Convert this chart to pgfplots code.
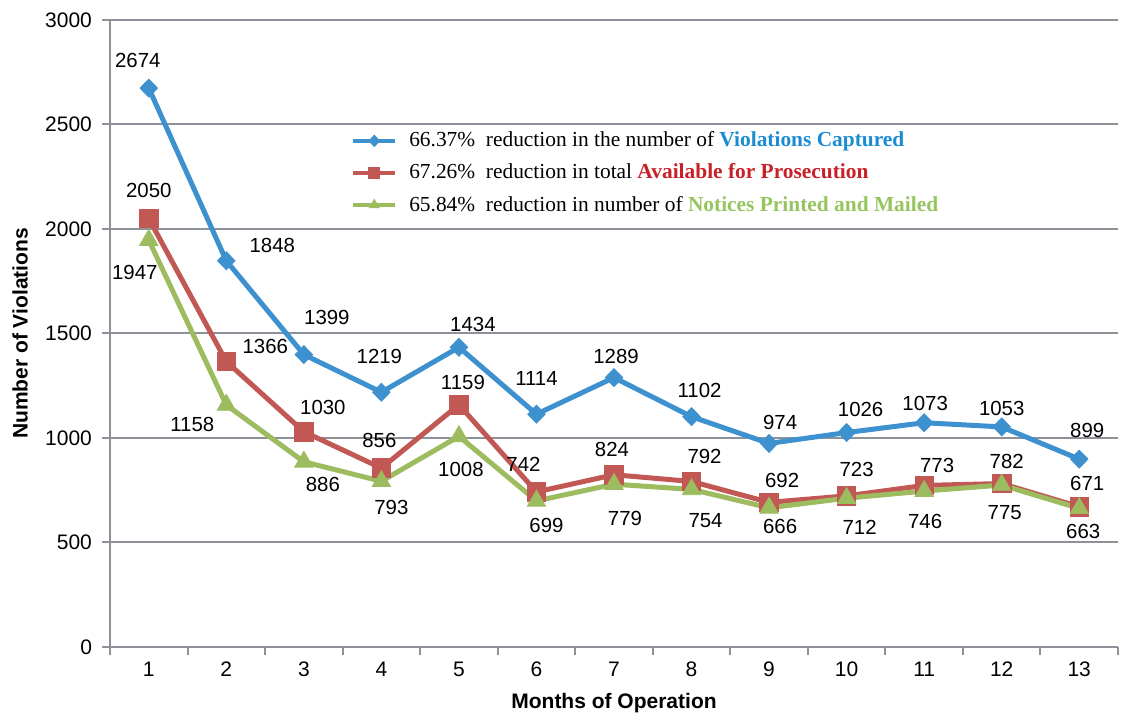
\documentclass[border=0pt]{standalone}
\usepackage{fontspec}
\setmainfont{Liberation Sans}
\newfontfamily\serifft{Liberation Serif}
\usepackage{pgfplots}
\pgfplotsset{compat=1.18}
\usepackage{pgfplotstable}
\definecolor{cblue}{RGB}{61,145,207}
\definecolor{cred}{RGB}{193,88,84}
\definecolor{cgreen}{RGB}{157,188,95}
\definecolor{tblue}{RGB}{28,140,210}
\definecolor{tred}{RGB}{200,32,40}
\definecolor{tgreen}{RGB}{150,196,95}
\definecolor{axgray}{RGB}{140,146,152}

\pgfplotstableread{
x y dx dy
1 2674 -5.5 14
2 1848 23 7.5
3 1399 11.5 18.5
4 1219 -1 18
5 1434 7 11.5
6 1114 0 18
7 1289 1 10.5
8 1102 4 13
9 974 5.5 10.5
10 1026 7 11.5
11 1073 0.5 9.5
12 1053 0 9
13 899 4 14.5
}\captured

\pgfplotstableread{
x y dx dy
1 2050 0 14
2 1366 19.5 7.5
3 1030 9.5 12
4 856 -1 14
5 1159 2 11
6 742 -6.5 14
7 824 -1 12.5
8 792 6.5 12.5
9 692 6.5 11
10 723 5 13
11 773 6.5 10
12 782 2.5 11
13 671 4 11.5
}\available

\pgfplotstableread{
x y dx dy
1 1947 -7 -16
2 1158 -17 -10
3 886 9.5 -11.5
4 793 5 -13
5 1008 1 -16.5
6 699 5 -12.5
7 779 5.5 -17
8 754 7 -15.5
9 666 5.5 -9.5
10 712 6.5 -14.5
11 746 0.5 -15
12 775 1.5 -14
13 663 2 -11.5
}\notices

\begin{document}
\begin{tikzpicture}
\begin{axis}[
  name=ax,
  scale only axis,
  width=504pt, height=313.5pt,
  xmin=0.5, xmax=13.5,
  ymin=0, ymax=3000,
  xtick={1,...,13},
  minor xtick={0.5,1.5,...,13.5},
  ytick={0,500,...,3000},
  axis x line*=bottom,
  axis y line*=left,
  axis line style={-, draw=axgray, line width=1pt},
  every outer x axis line/.append style={-},
  every outer y axis line/.append style={-},
  tick align=outside,
  major x tick style={draw=none},
  minor x tick style={draw=axgray, line width=1pt},
  minor tick length=4pt,
  major tick length=4pt,
  y tick style={draw=axgray, line width=1pt},
  ymajorgrids,
  major grid style={draw=axgray, line width=1pt},
  tick label style={font=\fontsize{10.5}{12}\selectfont},
  yticklabel style={xshift=-1.5pt},
  /pgf/number format/assume math mode=true,
  /pgf/number format/1000 sep={},
  xlabel={Months of Operation},
  ylabel={Number of Violations},
  every axis x label/.style={at={(axis description cs:0.5,0)}, anchor=center, yshift=-28pt, font=\bfseries\fontsize{10.5}{12}\selectfont},
  every axis y label/.style={at={(axis description cs:0,0.5)}, xshift=-45pt, rotate=90, anchor=center, font=\bfseries\fontsize{10.5}{12}\selectfont},
  clip=false,
  legend style={draw=none, fill=none, at={(0.233,0.835)}, anchor=north west,
    font=\serifft\fontsize{10.7}{13}\selectfont, row sep=3pt},
  legend cell align=left,
  legend image code/.code={%
    \draw[line width=2pt, mark repeat=2, mark phase=2] plot coordinates {(0pt,0pt) (10.5pt,0pt) (21pt,0pt)};},
  legend image post style={mark size=2.8pt},
  point meta=explicit symbolic,
  nodes near coords,
  visualization depends on={\thisrow{dx}\as\dx},
  visualization depends on={\thisrow{dy}\as\dy},
  every node near coord/.style={anchor=center, xshift=\dx pt, yshift=\dy pt, text=black, font=\fontsize{10.2}{12}\selectfont},
]
\addplot[cblue, line width=2.5pt, mark=diamond*, mark size=4.5pt, mark options={solid, line width=0.4pt, xscale=1.3}]
  table[x=x, y=y, meta=y] {\captured};
\addlegendentry{\hspace{4pt}66.37\%\ \ reduction in the number of \textbf{\color{tblue}Violations Captured}}
\addplot[cred, line width=2.5pt, mark=square*, mark size=4.6pt, mark options={solid, line width=0.4pt}]
  table[x=x, y=y, meta=y] {\available};
\addlegendentry{\hspace{4pt}67.26\%\ \ reduction in total \textbf{\color{tred}Available for Prosecution}}
\addplot[cgreen, line width=2.5pt, mark=triangle*, mark size=5.3pt, mark options={solid, line width=0.4pt}]
  table[x=x, y=y, meta=y] {\notices};
\addlegendentry{\hspace{4pt}65.84\%\ \ reduction in number of \textbf{\color{tgreen}Notices Printed and Mailed}}
\end{axis}
\pgfresetboundingbox
\path ([shift={(-55pt,-34pt)}]ax.south west) rectangle ([shift={(5pt,10pt)}]ax.north east);
\end{tikzpicture}
\end{document}
